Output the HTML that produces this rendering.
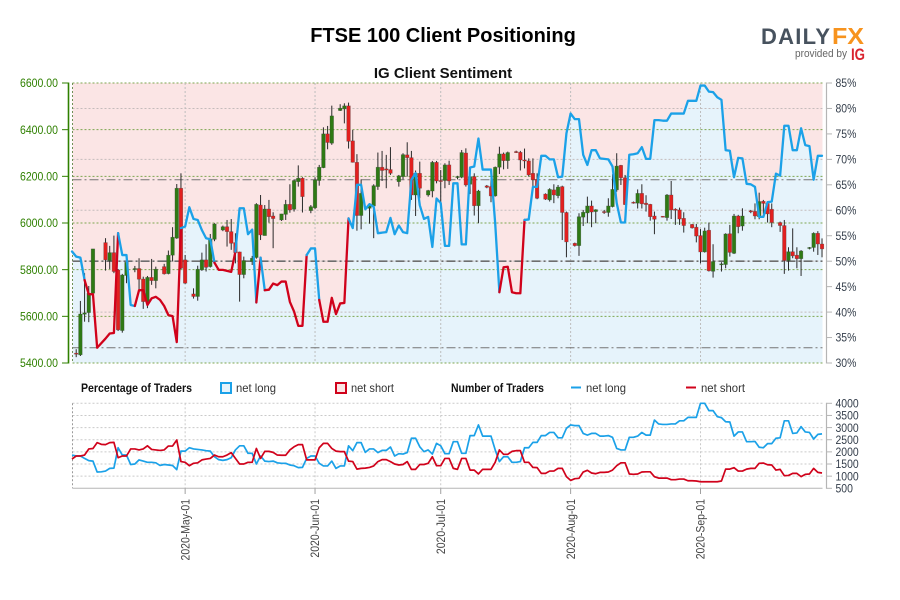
<!DOCTYPE html>
<html lang="en">
<head>
<meta charset="utf-8">
<title>FTSE 100 Client Positioning</title>
<style>
html,body{margin:0;padding:0;background:#fff;width:900px;height:600px;overflow:hidden}
svg{display:block;font-family:"Liberation Sans",Arial,sans-serif}
</style>
</head>
<body>
<svg id="chart" xmlns="http://www.w3.org/2000/svg" width="900" height="600" viewBox="0 0 900 600">
  <rect width="900" height="600" fill="#fff"/>
  <text x="443" y="42" text-anchor="middle" font-size="20" font-weight="bold" fill="#000">FTSE 100 Client Positioning</text>
  <text x="443" y="78" text-anchor="middle" font-size="15" font-weight="bold" fill="#111">IG Client Sentiment</text>

  <g>
    <text x="761" y="44" font-size="22" font-weight="bold" fill="#47525e" textLength="69" lengthAdjust="spacing">DAILY</text>
    <text x="832" y="44" font-size="23" font-weight="bold" fill="#f7931e" textLength="32" lengthAdjust="spacingAndGlyphs">FX</text>
    <text x="795" y="57" font-size="11" fill="#666" textLength="52" lengthAdjust="spacingAndGlyphs">provided by</text>
    <text x="851" y="60" font-size="17" font-weight="bold" fill="#d9232e" textLength="14" lengthAdjust="spacingAndGlyphs">IG</text>
  </g>

  <g id="main-panel"></g>

  <g font-size="12">
    <text x="81" y="392" font-weight="bold" fill="#111" textLength="111" lengthAdjust="spacingAndGlyphs">Percentage of Traders</text>
    <rect x="221" y="383" width="10" height="10" fill="#e6f3fb" stroke="#1ba1e8" stroke-width="2"/>
    <text x="236" y="392" fill="#333" textLength="40" lengthAdjust="spacingAndGlyphs">net long</text>
    <rect x="336" y="383" width="10" height="10" fill="#fbe5e5" stroke="#d0021b" stroke-width="2"/>
    <text x="351" y="392" fill="#333" textLength="43" lengthAdjust="spacingAndGlyphs">net short</text>
    <text x="451" y="392" font-weight="bold" fill="#111" textLength="93" lengthAdjust="spacingAndGlyphs">Number of Traders</text>
    <line x1="571" x2="581" y1="387.5" y2="387.5" stroke="#1ba1e8" stroke-width="2"/>
    <text x="586" y="392" fill="#333" textLength="40" lengthAdjust="spacingAndGlyphs">net long</text>
    <line x1="686" x2="696" y1="387.5" y2="387.5" stroke="#d0021b" stroke-width="2"/>
    <text x="701" y="392" fill="#333" textLength="44" lengthAdjust="spacingAndGlyphs">net short</text>
  </g>

  <g id="lower-panel"></g>
</svg>

<script>
// ---- axis ticks ----
const priceTicks = [6600, 6400, 6200, 6000, 5800, 5600, 5400];
const priceTickLabels = ['6600.00', '6400.00', '6200.00', '6000.00', '5800.00', '5600.00', '5400.00'];
const pctTicks = [85, 80, 75, 70, 65, 60, 55, 50, 45, 40, 35, 30];
const pctTickLabels = ['85%', '80%', '75%', '70%', '65%', '60%', '55%', '50%', '45%', '40%', '35%', '30%'];
const pctGrid = [80, 70, 60, 50, 40];
const pctRefMajor = 50;
const pctRefMinor = [66, 33];
const countTicks = [4000, 3500, 3000, 2500, 2000, 1500, 1000, 500];
const countTickLabels = ['4000', '3500', '3000', '2500', '2000', '1500', '1000', '500'];
const monthDays = [26, 57, 87, 118, 149];
const monthLabels = ['2020-May-01', '2020-Jun-01', '2020-Jul-01', '2020-Aug-01', '2020-Sep-01'];

// ---- candles: day = days since 2020-04-05 ----
const candleDays = [0,1,2,3,4,7,8,9,10,11,12,14,15,16,17,18,19,21,22,23,24,25,26,28,29,30,31,32,33,35,36,37,38,39,40,42,43,44,45,46,47,49,50,51,52,53,54,56,57,58,59,60,61,63,64,65,66,67,68,70,71,72,73,74,75,77,78,79,80,81,82,84,85,86,87,88,89,91,92,93,94,95,96,98,99,100,101,102,103,105,106,107,108,109,110,112,113,114,115,116,117,119,120,121,122,123,124,126,127,128,129,130,131,133,134,135,136,137,138,140,141,142,143,144,145,147,148,149,150,151,152,154,155,156,157,158,159,161,162,163,164,165,166,168,169,170,171,172,173,175,176,177,178];
const candleOpen = [5442,5435,5609,5616,5699,5916,5839,5873,5799,5539,5775,5802,5805,5760,5663,5767,5753,5813,5783,5862,5935,6149,5842,5696,5685,5799,5842,5813,5930,5970,5984,5963,5916,5876,5779,5835,5852,6077,5946,6060,6030,6013,6037,6080,6059,6177,6192,6053,6065,6182,6237,6382,6342,6482,6489,6502,6352,6260,6032,6063,6073,6156,6239,6232,6229,6177,6199,6292,6280,6120,6213,6120,6137,6260,6182,6182,6249,6195,6196,6300,6166,6199,6074,6159,6156,6116,6239,6296,6267,6306,6303,6270,6266,6213,6187,6124,6099,6142,6117,6156,6045,5913,5903,6025,6043,6073,6049,6049,6045,6070,6142,6247,6194,6089,6085,6127,6085,6080,6030,6029,6023,6120,6059,6056,6020,5994,5982,5946,5876,5969,5793,5822,5822,5954,5870,6030,5987,6052,6050,6027,6093,6084,6059,6002,5989,5839,5877,5862,5847,5892,5895,5956,5910];
const candleHigh = [5459,5666,5785,5730,5889,5935,5902,5946,5803,5782,5839,5816,5849,5770,5773,5846,5813,5825,5882,5982,6167,6213,5863,5720,5817,5873,5909,5953,5999,5989,6013,6017,5956,5877,5856,5859,6085,6120,6077,6099,6046,6039,6099,6166,6185,6247,6196,6077,6196,6249,6410,6416,6503,6509,6513,6516,6399,6295,6187,6085,6166,6302,6309,6292,6325,6206,6299,6346,6309,6225,6263,6142,6266,6266,6227,6256,6267,6202,6313,6320,6213,6213,6142,6163,6223,6242,6327,6302,6306,6310,6309,6319,6277,6277,6213,6127,6149,6166,6163,6160,6049,5916,6042,6056,6113,6096,6059,6056,6106,6209,6299,6249,6206,6092,6144,6166,6119,6082,6049,6030,6124,6180,6063,6066,6046,5996,5996,5974,5980,6002,5909,5832,5956,5992,6039,6035,6063,6056,6084,6130,6099,6092,6084,6006,6013,5896,5977,5896,5884,5897,5960,5965,5934];
const candleLow = [5425,5430,5577,5575,5696,5796,5803,5785,5537,5530,5742,5789,5713,5632,5635,5735,5720,5779,5780,5835,5932,5803,5739,5676,5667,5795,5792,5809,5922,5965,5899,5885,5827,5663,5763,5820,5847,5927,5946,6002,5892,6009,6013,6044,6049,6156,6045,6042,6059,6160,6235,6316,6335,6480,6427,6319,6259,5967,5973,5997,5935,6142,6180,6149,6206,6156,6187,6199,6099,6030,6106,6113,6110,6170,6085,6149,6163,6187,6192,6156,6124,6032,5999,6149,6089,6113,6210,6230,6232,6300,6225,6234,6199,6149,6102,6099,6092,6085,6106,5927,5853,5899,5859,5987,5999,5982,5999,6039,6027,6067,6134,6163,6077,6083,6062,6062,6049,6010,5952,6024,6010,6017,5992,5992,5959,5976,5917,5827,5873,5792,5766,5792,5806,5856,5867,5956,5967,6042,6016,6016,6039,6002,5982,5962,5782,5796,5849,5806,5773,5887,5877,5863,5853];
const candleClose = [5440,5610,5615,5699,5889,5842,5873,5792,5542,5777,5832,5805,5759,5663,5767,5753,5802,5782,5862,5939,6149,5806,5742,5685,5802,5842,5810,5932,5996,5984,5963,5913,5873,5779,5839,5849,6080,5949,6060,6027,6019,6039,6080,6056,6182,6192,6113,6070,6185,6239,6382,6345,6459,6492,6502,6350,6260,6032,6127,6077,6160,6239,6225,6227,6213,6202,6293,6280,6120,6213,6149,6139,6260,6180,6180,6249,6180,6199,6302,6163,6199,6074,6137,6153,6116,6239,6296,6267,6302,6303,6270,6266,6206,6185,6106,6102,6144,6120,6154,6045,5919,5903,6027,6046,6073,6047,6057,6046,6073,6144,6244,6194,6079,6086,6127,6082,6079,6027,6016,6025,6120,6056,6056,6017,5989,5979,5944,5876,5966,5795,5835,5825,5953,5874,6030,5984,6030,6049,6030,6092,6084,6039,6002,5989,5839,5877,5859,5847,5880,5895,5956,5910,5889];

// ---- sentiment: percent net long, first value is day -1 ----
const sentimentStartDay = -1;
const sentimentPct = [51.9,50.9,50.7,46.3,43.5,43.5,33.0,33.9,34.8,35.8,35.9,55.5,51.2,51.2,41.4,41.2,44.3,44.3,41.4,42.7,43.0,42.4,41.2,39.4,39.2,34.1,56.5,56.8,60.6,58.3,58.1,56.1,54.5,54.3,49.7,48.3,48.3,48.1,47.9,51.9,60.4,60.4,55.3,56.2,41.9,50.7,44.3,44.4,45.6,45.3,46.0,46.0,42.0,40.1,37.3,37.3,51.2,52.5,52.5,42.4,38.1,38.1,42.8,39.6,41.7,41.8,58.4,56.5,65.0,65.0,60.2,61.2,60.7,55.5,55.6,55.7,58.5,55.3,57.0,55.7,55.5,66.0,67.3,61.0,58.3,58.7,52.8,62.3,61.4,53.0,53.0,65.3,65.3,53.3,53.3,68.4,68.6,74.1,68.0,68.0,68.0,57.4,43.9,48.8,48.9,43.9,43.7,43.7,58.1,58.2,64.6,64.6,70.7,70.7,70.0,70.0,66.5,66.6,75.1,79.0,77.9,77.9,70.9,68.9,71.8,71.8,70.2,70.1,70.0,68.6,61.4,57.6,57.6,70.9,71.0,71.2,72.4,70.1,70.1,77.7,77.7,77.6,77.6,79.0,79.0,79.0,79.0,81.5,81.5,81.5,84.5,84.5,83.3,83.2,82.2,81.7,71.8,71.7,66.5,70.3,70.2,65.2,65.1,64.6,58.7,58.7,61.6,61.7,67.2,66.8,76.6,76.6,71.8,71.8,76.1,72.8,72.6,66.0,70.7,70.7];
// day ranges in which the sentiment line is drawn in the net-short colour
const shortRegimes = [[2,10],[14,25],[33,38],[43,44],[45,55],[58,65],[101,107]];

// ---- trader counts, first value is day -1 ----
const netLongCount = [1870,1830,1830,1730,1640,1620,1170,1180,1210,1320,1330,2170,1870,1870,1480,1500,1670,1620,1570,1570,1550,1440,1480,1460,1440,1270,2030,2030,2170,2120,2100,2080,2050,2030,1800,1680,1650,1680,1760,2080,2250,2250,1940,1940,1500,1830,1620,1600,1620,1550,1530,1530,1460,1430,1350,1360,1730,1830,1830,1530,1420,1420,1620,1320,1420,1420,2250,2050,2380,2380,1980,2120,2120,1970,2060,2060,2200,1830,1925,1910,1970,2560,2560,2210,2010,2080,1910,2350,2250,1925,1925,2420,2420,1940,1940,2670,2670,3110,2650,2650,2650,2080,1600,1800,1800,1570,1570,1600,2170,2170,2390,2390,2670,2670,2800,2800,2580,2580,2970,3110,3080,3080,2760,2690,2760,2760,2650,2650,2670,2600,2140,2080,2080,2600,2600,2650,2800,2690,2690,3310,3150,3130,3130,3150,3150,3280,3280,3420,3420,3420,4000,4000,3700,3700,3450,3410,3240,3230,2650,2820,2820,2420,2420,2430,2190,2170,2340,2340,2560,2580,3280,3280,2760,2780,3040,2820,2800,2530,2720,2740];
const netShortCount = [1705,1830,1830,1870,2120,2140,2380,2310,2300,2380,2390,1760,1830,1830,2120,2120,2080,2120,2250,2100,2080,2060,2080,2240,2240,2490,1600,1570,1430,1530,1550,1670,1705,1730,1870,1800,1800,1870,1970,1730,1500,1500,1570,1570,2140,1730,2020,2020,1980,1870,1860,1860,2080,2210,2300,2300,1670,1670,1670,2170,2350,2350,2140,2030,2010,2010,1620,1600,1290,1320,1330,1360,1420,1600,1680,1680,1600,1500,1460,1480,1600,1280,1280,1480,1480,1530,1800,1430,1430,1730,1730,1320,1280,1730,1730,1250,1250,1090,1280,1280,1280,1570,2080,1900,1900,2020,2050,2050,1570,1570,1360,1350,1115,1115,1210,1210,1320,1320,980,825,895,910,1170,1240,1130,1100,1155,1155,1170,1250,1430,1550,1550,1090,1075,1090,1170,1180,1180,980,920,920,920,855,855,880,880,810,810,800,770,770,770,770,770,800,1290,1290,1350,1210,1210,1290,1320,1320,1530,1540,1470,1460,1250,1280,1020,1030,1115,1115,980,1075,1090,1320,1155,1130];

// ---- scales ----
const SVGNS = 'http://www.w3.org/2000/svg';
const PLOT = {left: 72.5, right: 822.5, top: 83, bottom: 363, lowTop: 403.3, lowBottom: 488.3};
const xDay = d => 76.2 + 4.19 * d;
const yPrice = p => PLOT.top + (6600 - p) / 1200 * (PLOT.bottom - PLOT.top);
const yPct = v => PLOT.top + (85 - v) / 55 * (PLOT.bottom - PLOT.top);
const yCount = c => PLOT.lowTop + (4000 - c) / 3500 * (PLOT.lowBottom - PLOT.lowTop);

function make(parent, tag, attrs) {
  const el = document.createElementNS(SVGNS, tag);
  for (const k in attrs) el.setAttribute(k, attrs[k]);
  parent.appendChild(el);
  return el;
}
function pointsFor(values, startDay, yFn, from, to) {
  const pts = [];
  values.forEach((v, i) => {
    const d = startDay + i;
    if (d >= from && d <= to) pts.push(xDay(d).toFixed(2) + ',' + yFn(v).toFixed(2));
  });
  return pts.join(' ');
}

const main = document.getElementById('main-panel');
const lower = document.getElementById('lower-panel');
const lastDay = sentimentStartDay + sentimentPct.length - 1;

// backgrounds
const pinkBg = make(main, 'rect', {x: PLOT.left, y: PLOT.top, width: PLOT.right - PLOT.left, height: PLOT.bottom - PLOT.top, fill: '#fbe5e5'});



const fillPts = PLOT.left + ',' + PLOT.bottom + ' ' + PLOT.left + ',' + yPct(sentimentPct[0]).toFixed(2) + ' ' + pointsFor(sentimentPct, sentimentStartDay, yPct, -1, lastDay) + ' ' + PLOT.right + ',' + yPct(sentimentPct[sentimentPct.length - 1]).toFixed(2) + ' ' + PLOT.right + ',' + PLOT.bottom;
const blueFill = make(main, 'polygon', {points: fillPts, fill: '#e6f3fb'});



// gridlines
pctGrid.forEach(v => {
  const g = make(main, 'line', {x1: PLOT.left, x2: PLOT.right, y1: yPct(v), y2: yPct(v), stroke: '#c4bcbc', 'stroke-width': 1, 'stroke-dasharray': '2 2'});
  
  
});
priceTicks.forEach(p => {
  const g = make(main, 'line', {x1: PLOT.left, x2: PLOT.right, y1: yPrice(p), y2: yPrice(p), stroke: '#7da650', 'stroke-width': 1, 'stroke-dasharray': '2 2'});
  
  
});
monthDays.forEach(d => {
  const g = make(main, 'line', {x1: xDay(d), x2: xDay(d), y1: PLOT.top, y2: PLOT.bottom, stroke: '#bdbdbd', 'stroke-width': 1, 'stroke-dasharray': '2 2'});
  
  
});
const leftEdge = make(main, 'line', {x1: PLOT.left, x2: PLOT.left, y1: PLOT.top, y2: PLOT.bottom, stroke: '#6f8f55', 'stroke-width': 1, 'stroke-dasharray': '2 2'});



// reference lines
const ref50 = make(main, 'line', {x1: PLOT.left, x2: PLOT.right, y1: yPct(pctRefMajor), y2: yPct(pctRefMajor), stroke: '#6e6e6e', 'stroke-width': 1.6, 'stroke-dasharray': '9 3 2 3'});


pctRefMinor.forEach(v => {
  const r = make(main, 'line', {x1: PLOT.left, x2: PLOT.right, y1: yPct(v), y2: yPct(v), stroke: '#757575', 'stroke-width': 1, 'stroke-dasharray': '9 3 2 3'});
  
  
});

// candles
candleDays.forEach((d, i) => {
  const x = xDay(d);
  const o = candleOpen[i], c = candleClose[i];
  const up = c >= o;
  const group = make(main, 'g', {});
  
  
  const wick = make(group, 'line', {x1: x, x2: x, y1: yPrice(candleHigh[i]), y2: yPrice(candleLow[i]), stroke: '#2a2a2a', 'stroke-width': 1});
  
  
  const top = yPrice(Math.max(o, c));
  const h = Math.max(1, Math.abs(yPrice(o) - yPrice(c)));
  const body = make(group, 'rect', {x: x - 1.8, y: top, width: 3.6, height: h, fill: up ? '#2e7a14' : '#e2201f', stroke: 'rgba(60,60,60,.45)', 'stroke-width': 0.6});
  
  
});

// sentiment line split by regime
const breaks = [];
let cursor = -1;
shortRegimes.forEach(r => {
  breaks.push({from: cursor, to: r[0], color: '#1ba1e8'});
  breaks.push({from: r[0], to: r[1], color: '#d0021b'});
  cursor = r[1];
});
breaks.push({from: cursor, to: lastDay, color: '#1ba1e8'});
breaks.forEach(s => {
  const seg = make(main, 'polyline', {points: pointsFor(sentimentPct, sentimentStartDay, yPct, s.from, s.to), fill: 'none', stroke: s.color, 'stroke-width': 2.3, 'stroke-linejoin': 'round', 'stroke-linecap': 'round'});
  
  
});

// left axis
const leftAxis = make(main, 'line', {x1: 68.5, x2: 68.5, y1: PLOT.top - 0.5, y2: PLOT.bottom + 0.5, stroke: '#2f8000', 'stroke-width': 1.6});


priceTicks.forEach((p, i) => {
  const t = make(main, 'line', {x1: 62, x2: 68.5, y1: yPrice(p), y2: yPrice(p), stroke: '#2f8000', 'stroke-width': 1});
  
  
  const l = make(main, 'text', {transform: 'translate(20,' + (yPrice(p) + 4.2) + ') scale(.875,1)', 'font-size': 12, fill: '#2f8000'});
  
  
  l.textContent = priceTickLabels[i];
});

// right axis
const rightAxis = make(main, 'line', {x1: 826.5, x2: 826.5, y1: PLOT.top - 0.5, y2: PLOT.bottom + 0.5, stroke: '#b5b5b5', 'stroke-width': 1.2});


pctTicks.forEach((v, i) => {
  const t = make(main, 'line', {x1: 826.5, x2: 832, y1: yPct(v), y2: yPct(v), stroke: '#b5b5b5', 'stroke-width': 1});
  
  
  const l = make(main, 'text', {transform: 'translate(835.5,' + (yPct(v) + 4.2) + ') scale(.87,1)', 'font-size': 12, fill: '#333d4a'});
  
  
  l.textContent = pctTickLabels[i];
});

// lower panel
countTicks.forEach((c, i) => {
  if (i < countTicks.length - 1) {
    const g = make(lower, 'line', {x1: PLOT.left, x2: PLOT.right, y1: yCount(c), y2: yCount(c), stroke: '#cacaca', 'stroke-width': 1, 'stroke-dasharray': '2 2'});
    
    
  }
  const t = make(lower, 'line', {x1: 826.5, x2: 832, y1: yCount(c), y2: yCount(c), stroke: '#b5b5b5', 'stroke-width': 1});
  
  
  const l = make(lower, 'text', {transform: 'translate(835.5,' + (yCount(c) + 4.2) + ') scale(.87,1)', 'font-size': 12, fill: '#333d4a'});
  
  
  l.textContent = countTickLabels[i];
});
const lowLeft = make(lower, 'line', {x1: PLOT.left, x2: PLOT.left, y1: PLOT.lowTop, y2: PLOT.lowBottom, stroke: '#9a9a9a', 'stroke-width': 1, 'stroke-dasharray': '2 2'});


const lowRight = make(lower, 'line', {x1: 826.5, x2: 826.5, y1: PLOT.lowTop - 0.5, y2: PLOT.lowBottom + 0.5, stroke: '#b5b5b5', 'stroke-width': 1.2});


const bottomAxis = make(lower, 'line', {x1: PLOT.left, x2: PLOT.right, y1: PLOT.lowBottom, y2: PLOT.lowBottom, stroke: '#b5b5b5', 'stroke-width': 1});


monthDays.forEach((d, i) => {
  const g = make(lower, 'line', {x1: xDay(d), x2: xDay(d), y1: PLOT.lowTop, y2: PLOT.lowBottom, stroke: '#cacaca', 'stroke-width': 1, 'stroke-dasharray': '2 2'});
  
  
  const t = make(lower, 'line', {x1: xDay(d), x2: xDay(d), y1: PLOT.lowBottom, y2: 494, stroke: '#a0a0a0', 'stroke-width': 1});
  
  
  const l = make(lower, 'text', {transform: 'translate(' + (xDay(d) + 4.2) + ',499) rotate(-90) scale(.87,1)', 'text-anchor': 'end', 'font-size': 12, fill: '#444'});
  
  
  l.textContent = monthLabels[i];
});
const longLine = make(lower, 'polyline', {points: pointsFor(netLongCount, sentimentStartDay, yCount, -1, lastDay), fill: 'none', stroke: '#1ba1e8', 'stroke-width': 1.7, 'stroke-linejoin': 'round'});


const shortLine = make(lower, 'polyline', {points: pointsFor(netShortCount, sentimentStartDay, yCount, -1, lastDay), fill: 'none', stroke: '#d0021b', 'stroke-width': 1.7, 'stroke-linejoin': 'round'});


</script>
</body>
</html>
